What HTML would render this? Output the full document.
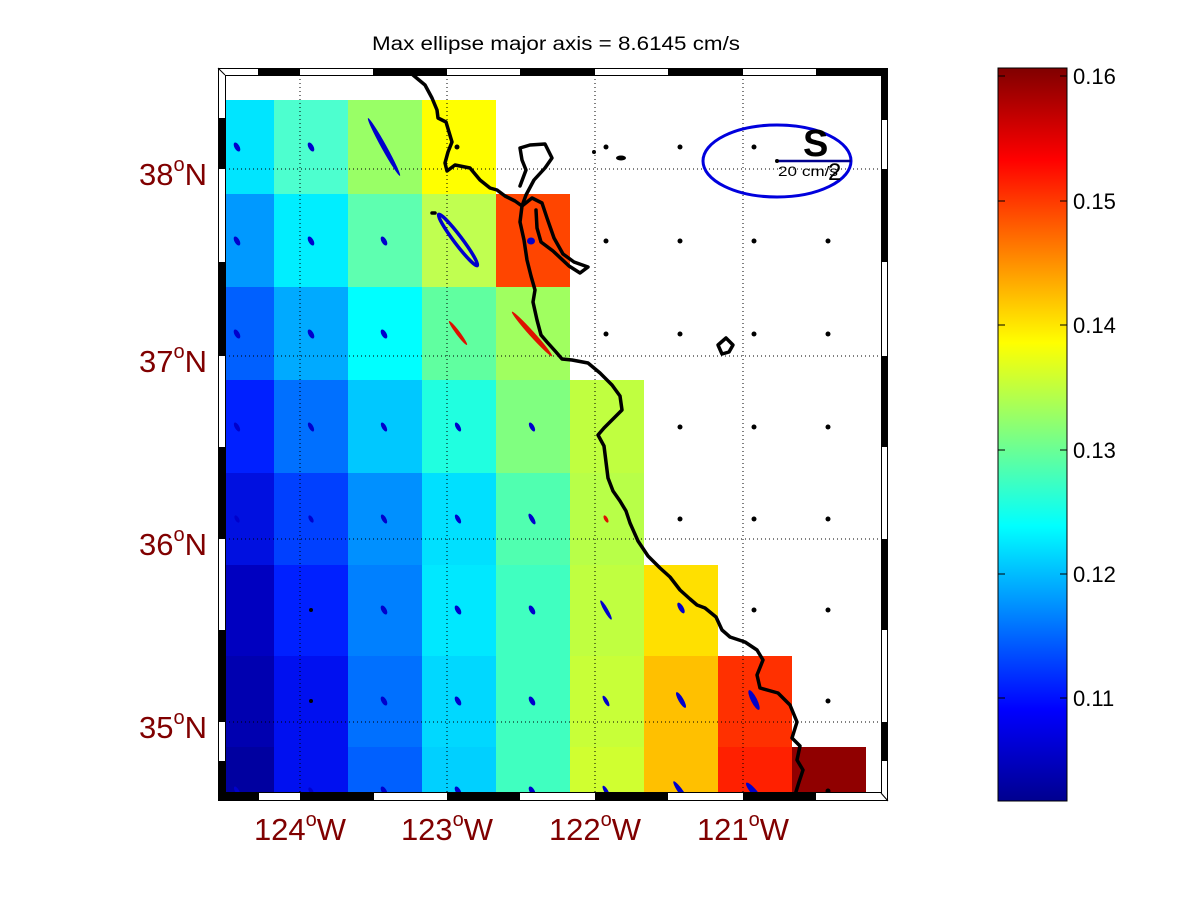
<!DOCTYPE html>
<html><head><meta charset="utf-8"><style>
html,body{margin:0;padding:0;background:#fff;}
svg{display:block;font-family:"Liberation Sans",sans-serif;}
</style></head><body>
<svg width="1200" height="901" viewBox="0 0 1200 901" xmlns="http://www.w3.org/2000/svg">
<defs>
<linearGradient id="jet" x1="0" y1="1" x2="0" y2="0">
<stop offset="0" stop-color="#00008f"/>
<stop offset="0.125" stop-color="#0000ff"/>
<stop offset="0.375" stop-color="#00ffff"/>
<stop offset="0.625" stop-color="#ffff00"/>
<stop offset="0.875" stop-color="#ff0000"/>
<stop offset="1" stop-color="#800000"/>
</linearGradient>
<clipPath id="pc"><rect x="225" y="75" width="657" height="718"/></clipPath>
</defs>
<rect width="1200" height="901" fill="#fff"/>
<text x="372" y="50" font-size="19" textLength="368" lengthAdjust="spacingAndGlyphs">Max ellipse major axis = 8.6145 cm/s</text>

<g>
<rect x="226" y="100" width="48" height="94" fill="#00e5ff"/>
<rect x="274" y="100" width="74" height="94" fill="#4dffcf"/>
<rect x="348" y="100" width="74" height="94" fill="#99ff66"/>
<rect x="422" y="100" width="74" height="94" fill="#ffff00"/>
<rect x="226" y="194" width="48" height="93" fill="#0099ff"/>
<rect x="274" y="194" width="74" height="93" fill="#00eeff"/>
<rect x="348" y="194" width="74" height="93" fill="#5effb0"/>
<rect x="422" y="194" width="74" height="93" fill="#c0ff50"/>
<rect x="496" y="194" width="74" height="93" fill="#ff4500"/>
<rect x="226" y="287" width="48" height="93" fill="#0060ff"/>
<rect x="274" y="287" width="74" height="93" fill="#00aaff"/>
<rect x="348" y="287" width="74" height="93" fill="#00ffff"/>
<rect x="422" y="287" width="74" height="93" fill="#60ffa0"/>
<rect x="496" y="287" width="74" height="93" fill="#a0ff60"/>
<rect x="226" y="380" width="48" height="93" fill="#0020ff"/>
<rect x="274" y="380" width="74" height="93" fill="#0070ff"/>
<rect x="348" y="380" width="74" height="93" fill="#00c8ff"/>
<rect x="422" y="380" width="74" height="93" fill="#20ffe0"/>
<rect x="496" y="380" width="74" height="93" fill="#80ff80"/>
<rect x="570" y="380" width="74" height="93" fill="#c0ff40"/>
<rect x="226" y="473" width="48" height="92" fill="#0010e0"/>
<rect x="274" y="473" width="74" height="92" fill="#0040ff"/>
<rect x="348" y="473" width="74" height="92" fill="#0090ff"/>
<rect x="422" y="473" width="74" height="92" fill="#00e0ff"/>
<rect x="496" y="473" width="74" height="92" fill="#50ffb0"/>
<rect x="570" y="473" width="74" height="92" fill="#b8ff48"/>
<rect x="226" y="565" width="48" height="91" fill="#0000c0"/>
<rect x="274" y="565" width="74" height="91" fill="#0020ff"/>
<rect x="348" y="565" width="74" height="91" fill="#0080ff"/>
<rect x="422" y="565" width="74" height="91" fill="#00e8ff"/>
<rect x="496" y="565" width="74" height="91" fill="#40ffc0"/>
<rect x="570" y="565" width="74" height="91" fill="#c0ff40"/>
<rect x="644" y="565" width="74" height="91" fill="#ffe000"/>
<rect x="226" y="656" width="48" height="91" fill="#0000b0"/>
<rect x="274" y="656" width="74" height="91" fill="#0010f0"/>
<rect x="348" y="656" width="74" height="91" fill="#0070ff"/>
<rect x="422" y="656" width="74" height="91" fill="#00d8ff"/>
<rect x="496" y="656" width="74" height="91" fill="#40ffc0"/>
<rect x="570" y="656" width="74" height="91" fill="#c8ff38"/>
<rect x="644" y="656" width="74" height="91" fill="#ffc000"/>
<rect x="718" y="656" width="74" height="91" fill="#ff3000"/>
<rect x="226" y="747" width="48" height="46" fill="#0000a0"/>
<rect x="274" y="747" width="74" height="46" fill="#0010f0"/>
<rect x="348" y="747" width="74" height="46" fill="#0060ff"/>
<rect x="422" y="747" width="74" height="46" fill="#00d0ff"/>
<rect x="496" y="747" width="74" height="46" fill="#40ffc0"/>
<rect x="570" y="747" width="74" height="46" fill="#d0ff30"/>
<rect x="644" y="747" width="74" height="46" fill="#ffc000"/>
<rect x="718" y="747" width="74" height="46" fill="#ff2000"/>
<rect x="792" y="747" width="74" height="46" fill="#900000"/>
</g>

<g stroke="#000" stroke-width="1" stroke-dasharray="1,3" fill="none">
<line x1="300" y1="75" x2="300" y2="793"/>
<line x1="447" y1="75" x2="447" y2="793"/>
<line x1="595" y1="75" x2="595" y2="793"/>
<line x1="743" y1="75" x2="743" y2="793"/>
<line x1="225" y1="169" x2="882" y2="169"/>
<line x1="225" y1="356" x2="882" y2="356"/>
<line x1="225" y1="539" x2="882" y2="539"/>
<line x1="225" y1="722" x2="882" y2="722"/>
</g>

<g clip-path="url(#pc)">
<g fill="#000">
<circle cx="457" cy="147" r="2.5"/><circle cx="606" cy="147" r="2.5"/><circle cx="680" cy="147" r="2.5"/><circle cx="754" cy="147" r="2.5"/>
<circle cx="606" cy="241" r="2.5"/><circle cx="680" cy="241" r="2.5"/><circle cx="754" cy="241" r="2.5"/><circle cx="828" cy="241" r="2.5"/>
<circle cx="606" cy="334" r="2.5"/><circle cx="680" cy="334" r="2.5"/><circle cx="754" cy="334" r="2.5"/><circle cx="828" cy="334" r="2.5"/>
<circle cx="680" cy="427" r="2.5"/><circle cx="754" cy="427" r="2.5"/><circle cx="828" cy="427" r="2.5"/>
<circle cx="680" cy="519" r="2.5"/><circle cx="754" cy="519" r="2.5"/><circle cx="828" cy="519" r="2.5"/>
<circle cx="754" cy="610" r="2.5"/><circle cx="828" cy="610" r="2.5"/>
<circle cx="828" cy="701" r="2.5"/><circle cx="828" cy="791" r="2.5"/>
<circle cx="311" cy="610" r="2"/><circle cx="311" cy="701" r="2"/>
<circle cx="594" cy="152" r="2"/>
<ellipse cx="621" cy="158" rx="5" ry="2.5"/>
</g>
<g fill="#0000cc" stroke="#0000cc">
<g stroke-width="0">
<ellipse cx="237" cy="147" rx="5" ry="2.5" transform="rotate(60 237 147)"/>
<ellipse cx="311" cy="147" rx="5" ry="2.5" transform="rotate(60 311 147)"/>
<ellipse cx="237" cy="241" rx="5" ry="2.5" transform="rotate(60 237 241)"/>
<ellipse cx="311" cy="241" rx="5" ry="2.5" transform="rotate(60 311 241)"/>
<ellipse cx="384" cy="241" rx="5" ry="2.5" transform="rotate(60 384 241)"/>
<ellipse cx="237" cy="334" rx="5" ry="2.5" transform="rotate(60 237 334)"/>
<ellipse cx="311" cy="334" rx="5" ry="2.5" transform="rotate(60 311 334)"/>
<ellipse cx="384" cy="334" rx="5" ry="2.5" transform="rotate(60 384 334)"/>
<ellipse cx="237" cy="427" rx="5" ry="2.2" transform="rotate(60 237 427)"/>
<ellipse cx="311" cy="427" rx="5" ry="2.2" transform="rotate(60 311 427)"/>
<ellipse cx="384" cy="427" rx="5" ry="2.2" transform="rotate(60 384 427)"/>
<ellipse cx="458" cy="427" rx="5" ry="2.2" transform="rotate(60 458 427)"/>
<ellipse cx="532" cy="427" rx="5" ry="2.2" transform="rotate(60 532 427)"/>
<ellipse cx="237" cy="519" rx="4" ry="2" transform="rotate(60 237 519)"/>
<ellipse cx="311" cy="519" rx="4" ry="2" transform="rotate(60 311 519)"/>
<ellipse cx="384" cy="519" rx="5" ry="2.2" transform="rotate(60 384 519)"/>
<ellipse cx="458" cy="519" rx="5" ry="2.2" transform="rotate(60 458 519)"/>
<ellipse cx="532" cy="519" rx="6" ry="2.2" transform="rotate(60 532 519)"/>
<ellipse cx="384" cy="610" rx="5" ry="2.5" transform="rotate(60 384 610)"/>
<ellipse cx="458" cy="610" rx="5" ry="2.5" transform="rotate(60 458 610)"/>
<ellipse cx="532" cy="610" rx="5" ry="2.5" transform="rotate(60 532 610)"/>
<ellipse cx="606" cy="610" rx="11" ry="2" transform="rotate(60 606 610)"/>
<ellipse cx="681" cy="608" rx="6" ry="2.5" transform="rotate(60 681 608)"/>
<ellipse cx="384" cy="701" rx="5" ry="2.5" transform="rotate(60 384 701)"/>
<ellipse cx="458" cy="701" rx="5" ry="2.5" transform="rotate(60 458 701)"/>
<ellipse cx="532" cy="701" rx="5" ry="2.5" transform="rotate(60 532 701)"/>
<ellipse cx="606" cy="701" rx="6" ry="2" transform="rotate(60 606 701)"/>
<ellipse cx="681" cy="700" rx="9" ry="2.5" transform="rotate(60 681 700)"/>
<ellipse cx="754" cy="700" rx="11" ry="3" transform="rotate(63 754 700)"/>
<ellipse cx="237" cy="791" rx="5" ry="2" transform="rotate(60 237 791)"/>
<ellipse cx="311" cy="791" rx="4" ry="2" transform="rotate(60 311 791)"/>
<ellipse cx="384" cy="791" rx="5" ry="2.5" transform="rotate(60 384 791)"/>
<ellipse cx="458" cy="791" rx="5" ry="2.5" transform="rotate(60 458 791)"/>
<ellipse cx="532" cy="791" rx="5" ry="2.5" transform="rotate(60 532 791)"/>
<ellipse cx="606" cy="791" rx="6" ry="2" transform="rotate(60 606 791)"/>
<ellipse cx="681" cy="792" rx="13" ry="2.5" transform="rotate(55 681 792)"/>
<ellipse cx="754" cy="792" rx="12" ry="3" transform="rotate(50 754 792)"/>
<ellipse cx="531" cy="241" rx="4" ry="3.5"/>
<ellipse cx="384" cy="147" rx="33" ry="2.6" transform="rotate(61 384 147)"/>
</g>
<ellipse cx="458" cy="240" rx="32" ry="4" transform="rotate(53 458 240)" fill="none" stroke-width="3.5"/>
</g>
<g fill="#dd1100">
<ellipse cx="458" cy="333" rx="15" ry="2" transform="rotate(53 458 333)"/>
<ellipse cx="532" cy="334" rx="30" ry="2.6" transform="rotate(48 532 334)"/>
<ellipse cx="606" cy="519" rx="4" ry="1.8" transform="rotate(60 606 519)"/>
</g>

<g fill="none" stroke="#000" stroke-width="3.5" stroke-linejoin="round" stroke-linecap="round">
<polyline points="413,75 425,85 432,98 437,110 438,118 446,122 449,132 452,142 448,152 445,163 447,171 455,165 470,168 480,180 490,188 497,190 505,196 515,201 522,206 520,222 524,240 527,260 531,276 535,290 533,302 537,320 541,335 547,342 556,352 562,359 572,360 588,363 600,373 612,385 620,396 622,410 612,420 604,428 598,435 604,446 606,462 608,478 613,491 620,501 626,511 630,523 638,541 648,556 660,568 670,577 680,590 690,599 697,605 705,608 716,617 722,630 730,637 745,642 757,650 763,660 757,675 760,688 778,693 790,705 797,722 792,738 800,746 797,760 803,770 799,782 795,795"/>
<polyline points="522,206 526,195 534,180 545,168 552,158 545,144 530,145 520,148 522,160 526,170 520,186"/>
<polyline points="522,206 532,198 542,203 547,218 554,238 563,254 574,262 588,267 580,273 569,266 553,251 541,242 537,228 536,210"/>
<path d="M718,345 L726,338 L733,345 L729,352 L722,354 Z"/>
<line x1="432" y1="213" x2="435" y2="213"/>
</g>
</g>

<ellipse cx="777" cy="161" rx="74" ry="36" fill="none" stroke="#0000dd" stroke-width="3"/>
<line x1="777" y1="161" x2="851" y2="161" stroke="#00008f" stroke-width="2.5"/>
<circle cx="777" cy="161" r="2" fill="#000"/>
<text x="803" y="156" font-size="38" font-weight="bold">S</text>
<text x="828" y="180" font-size="24">2</text>
<text x="778" y="176" font-size="14" textLength="60" lengthAdjust="spacingAndGlyphs">20 cm/s</text>

<g fill="#000">
<rect x="218" y="68" width="670" height="1"/>
<rect x="218" y="800" width="670" height="1"/>
<rect x="218" y="68" width="1" height="733"/>
<rect x="887" y="68" width="1" height="733"/>
<rect x="225" y="75" width="657" height="1"/>
<rect x="225" y="792" width="657" height="1"/>
<rect x="225" y="75" width="1" height="718"/>
<rect x="881" y="75" width="1" height="718"/>
<rect x="258" y="68" width="42" height="7"/><rect x="373" y="68" width="74" height="7"/><rect x="520" y="68" width="75" height="7"/><rect x="668" y="68" width="75" height="7"/><rect x="816" y="68" width="72" height="7"/>
<rect x="218" y="793" width="41" height="8"/><rect x="300" y="793" width="74" height="8"/><rect x="447" y="793" width="73" height="8"/><rect x="595" y="793" width="73" height="8"/><rect x="743" y="793" width="73" height="8"/>
<rect x="218" y="118" width="7" height="51"/><rect x="218" y="262" width="7" height="94"/><rect x="218" y="447" width="7" height="92"/><rect x="218" y="630" width="7" height="92"/><rect x="218" y="761" width="7" height="40"/>
<rect x="882" y="68" width="6" height="52"/><rect x="882" y="169" width="6" height="93"/><rect x="882" y="356" width="6" height="91"/><rect x="882" y="539" width="6" height="91"/><rect x="882" y="722" width="6" height="39"/>
</g>
<line x1="218" y1="68" x2="225" y2="75" stroke="#000"/>
<line x1="888" y1="801" x2="881" y2="793" stroke="#000"/>

<g fill="#800000" font-size="31">
<text x="207" y="185" text-anchor="end">38<tspan font-size="20" dy="-14">o</tspan><tspan dy="14">N</tspan></text>
<text x="207" y="372" text-anchor="end">37<tspan font-size="20" dy="-14">o</tspan><tspan dy="14">N</tspan></text>
<text x="207" y="555" text-anchor="end">36<tspan font-size="20" dy="-14">o</tspan><tspan dy="14">N</tspan></text>
<text x="207" y="738" text-anchor="end">35<tspan font-size="20" dy="-14">o</tspan><tspan dy="14">N</tspan></text>
<text x="300" y="840" text-anchor="middle">124<tspan font-size="20" dy="-14">o</tspan><tspan dy="14">W</tspan></text>
<text x="447" y="840" text-anchor="middle">123<tspan font-size="20" dy="-14">o</tspan><tspan dy="14">W</tspan></text>
<text x="595" y="840" text-anchor="middle">122<tspan font-size="20" dy="-14">o</tspan><tspan dy="14">W</tspan></text>
<text x="743" y="840" text-anchor="middle">121<tspan font-size="20" dy="-14">o</tspan><tspan dy="14">W</tspan></text>
</g>

<rect x="998" y="68" width="69" height="733" fill="url(#jet)" stroke="#000" stroke-width="1"/>
<g stroke="#000" stroke-width="1">
<line x1="998" y1="76" x2="1005" y2="76"/><line x1="1060" y1="76" x2="1067" y2="76"/>
<line x1="998" y1="201" x2="1005" y2="201"/><line x1="1060" y1="201" x2="1067" y2="201"/>
<line x1="998" y1="325" x2="1005" y2="325"/><line x1="1060" y1="325" x2="1067" y2="325"/>
<line x1="998" y1="450" x2="1005" y2="450"/><line x1="1060" y1="450" x2="1067" y2="450"/>
<line x1="998" y1="574" x2="1005" y2="574"/><line x1="1060" y1="574" x2="1067" y2="574"/>
<line x1="998" y1="698" x2="1005" y2="698"/><line x1="1060" y1="698" x2="1067" y2="698"/>
</g>
<g font-size="22">
<text x="1073" y="84">0.16</text>
<text x="1073" y="209">0.15</text>
<text x="1073" y="333">0.14</text>
<text x="1073" y="458">0.13</text>
<text x="1073" y="582">0.12</text>
<text x="1073" y="706">0.11</text>
</g>
</svg>
</body></html>
